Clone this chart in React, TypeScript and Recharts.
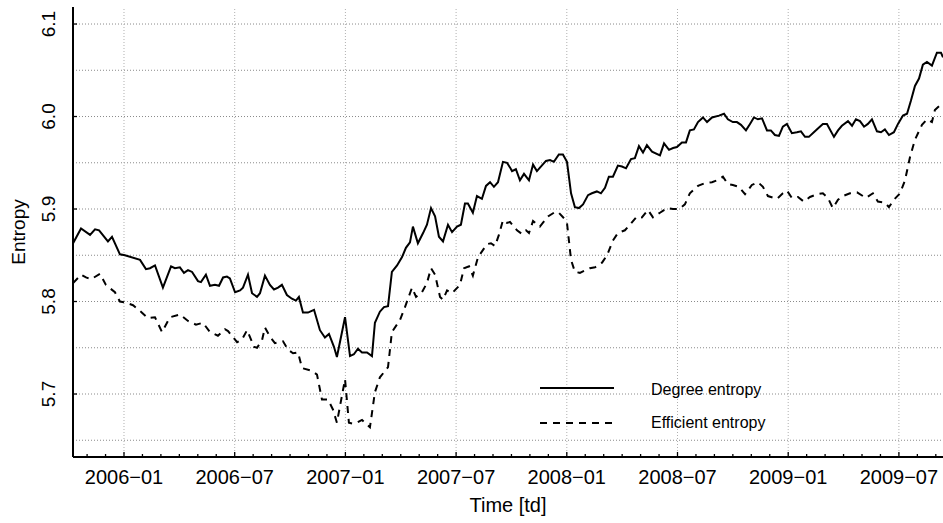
import React from "react";
import { LineChart, Line, XAxis, YAxis, ReferenceLine, Legend } from "recharts";

// x = months since 2006-01 (decimal), values = entropy
const degreeT = [-2.76,-2.33,-1.84,-1.57,-1.35,-0.87,-0.65,-0.22,0.05,0.87,1.19,1.41,1.68,2.11,2.55,2.76,3.03,3.25,3.47,3.69,4.01,4.17,4.44,4.66,4.93,5.15,5.37,5.58,5.74,6.02,6.29,6.45,6.72,6.94,7.21,7.37,7.64,7.91,8.13,8.35,8.56,8.83,9.10,9.32,9.48,9.70,9.97,10.30,10.62,10.89,11.11,11.38,11.54,11.98,12.25,12.46,12.68,12.90,13.17,13.44,13.60,13.87,14.09,14.31,14.52,14.80,15.07,15.28,15.50,15.66,15.93,16.21,16.42,16.64,16.86,17.07,17.29,17.56,17.78,18.05,18.26,18.48,18.64,18.91,19.13,19.40,19.62,19.84,20.05,20.27,20.54,20.76,20.92,21.03,21.24,21.46,21.68,21.95,22.17,22.38,22.87,23.09,23.30,23.57,23.79,24.01,24.23,24.44,24.66,24.88,25.15,25.36,25.63,25.85,26.07,26.28,26.50,26.77,26.99,27.21,27.48,27.69,27.91,28.13,28.34,28.62,29.05,29.27,29.54,29.76,29.97,30.24,30.46,30.67,30.89,31.11,31.38,31.60,31.87,32.25,32.52,32.73,33.00,33.22,33.44,33.71,33.93,34.14,34.36,34.58,34.85,35.06,35.28,35.50,35.71,35.93,36.20,36.47,36.69,36.91,37.12,37.39,37.61,37.88,38.10,38.48,38.70,38.91,39.24,39.46,39.67,39.89,40.11,40.32,40.54,40.81,41.03,41.24,41.46,41.73,41.95,42.22,42.44,42.65,42.87,43.09,43.30,43.52,43.79,44.06,44.28,44.39];
const degreeV = [5.863,5.879,5.872,5.878,5.877,5.865,5.870,5.851,5.850,5.845,5.835,5.836,5.839,5.815,5.838,5.836,5.837,5.831,5.834,5.832,5.822,5.821,5.829,5.817,5.818,5.817,5.826,5.827,5.825,5.810,5.812,5.815,5.829,5.809,5.805,5.809,5.828,5.818,5.813,5.815,5.818,5.807,5.803,5.801,5.805,5.788,5.788,5.791,5.769,5.761,5.765,5.751,5.740,5.783,5.741,5.743,5.749,5.745,5.745,5.741,5.777,5.789,5.794,5.795,5.832,5.839,5.848,5.858,5.864,5.881,5.863,5.874,5.883,5.901,5.892,5.870,5.865,5.883,5.875,5.881,5.883,5.906,5.906,5.896,5.914,5.911,5.925,5.929,5.924,5.929,5.951,5.950,5.945,5.941,5.943,5.931,5.938,5.931,5.948,5.941,5.952,5.953,5.951,5.959,5.959,5.951,5.917,5.902,5.901,5.905,5.915,5.917,5.919,5.917,5.923,5.935,5.935,5.947,5.946,5.944,5.954,5.955,5.968,5.961,5.969,5.962,5.958,5.971,5.964,5.966,5.967,5.972,5.972,5.985,5.986,5.994,5.999,5.994,5.999,6.001,6.003,5.997,5.994,5.994,5.991,5.985,5.992,5.999,5.997,5.998,5.985,5.985,5.980,5.979,5.989,5.992,5.982,5.983,5.984,5.978,5.978,5.983,5.987,5.992,5.992,5.978,5.985,5.990,5.995,5.990,5.997,5.995,5.989,5.992,5.997,5.984,5.983,5.986,5.980,5.983,5.992,6.001,6.003,6.017,6.033,6.041,6.056,6.059,6.055,6.069,6.069,6.064];

const effT = [-2.76,-2.33,-2.06,-1.79,-1.30,-0.98,-0.49,-0.22,0.05,0.49,0.92,1.30,1.68,2.06,2.49,3.03,3.47,3.90,4.28,4.66,5.09,5.47,5.64,6.13,6.40,6.67,7.05,7.21,7.48,7.64,7.91,8.18,8.62,8.89,9.16,9.43,9.65,10.19,10.46,10.73,11.06,11.33,11.54,11.98,12.19,12.41,12.63,12.90,13.33,13.60,13.87,14.31,14.52,14.96,15.23,15.61,15.83,16.15,16.42,16.64,16.86,17.13,17.29,17.51,17.78,18.21,18.43,18.70,18.91,19.19,19.67,19.89,20.11,20.32,20.54,20.76,20.92,21.30,21.57,21.79,21.95,22.17,22.54,22.98,23.30,23.52,23.85,24.01,24.23,24.44,24.71,25.25,25.53,25.91,26.18,26.50,26.77,27.15,27.42,27.80,28.07,28.40,28.67,29.05,29.43,29.75,30.08,30.40,30.67,31.11,31.49,31.87,32.14,32.46,32.73,33.00,33.33,33.66,34.03,34.36,34.63,34.90,35.39,35.71,35.93,36.20,36.53,36.85,37.18,37.56,37.88,38.15,38.42,38.70,38.97,39.35,39.73,40.21,40.59,40.86,41.24,41.46,41.73,42.06,42.33,42.60,42.87,43.25,43.52,43.79,43.95,44.22,44.39];
const effV = [5.820,5.829,5.826,5.824,5.830,5.818,5.810,5.800,5.799,5.796,5.789,5.782,5.783,5.767,5.783,5.786,5.779,5.775,5.777,5.767,5.763,5.770,5.768,5.756,5.759,5.769,5.751,5.750,5.758,5.772,5.762,5.755,5.757,5.748,5.744,5.745,5.728,5.725,5.721,5.694,5.694,5.683,5.669,5.716,5.669,5.668,5.669,5.672,5.664,5.702,5.718,5.729,5.767,5.780,5.794,5.815,5.805,5.810,5.820,5.836,5.829,5.805,5.802,5.812,5.809,5.818,5.836,5.838,5.828,5.848,5.862,5.863,5.860,5.872,5.888,5.885,5.886,5.877,5.873,5.877,5.874,5.887,5.881,5.892,5.896,5.897,5.890,5.885,5.845,5.832,5.831,5.836,5.837,5.842,5.850,5.866,5.874,5.877,5.883,5.892,5.891,5.899,5.891,5.896,5.901,5.900,5.900,5.905,5.917,5.925,5.928,5.929,5.931,5.935,5.927,5.926,5.924,5.916,5.926,5.929,5.924,5.914,5.911,5.917,5.920,5.912,5.913,5.908,5.913,5.916,5.917,5.912,5.901,5.910,5.914,5.917,5.918,5.912,5.917,5.908,5.907,5.902,5.910,5.917,5.931,5.956,5.975,5.991,5.997,5.994,6.007,6.012,6.009];

const seriesNames = ["Degree entropy", "Efficient entropy"];
const xTitle = "Time [td]";
const yTitle = "Entropy";
const majorMonths = [0, 6, 12, 18, 24, 30, 36, 42];
const xLabels = ["2006\u221201", "2006\u221207", "2007\u221201", "2007\u221207", "2008\u221201", "2008\u221207", "2009\u221201", "2009\u221207"];
const minorMonths = Array.from({ length: 47 }, (_, i) => i - 2);
const yTickValues = [5.7, 5.8, 5.9, 6.0, 6.1];
const yTickLabels = ["5.7", "5.8", "5.9", "6.0", "6.1"];
const yGridValues = [5.65, 5.7, 5.75, 5.8, 5.85, 5.9, 5.95, 6.0, 6.05, 6.1];

const degreeData = degreeT.map((t, i) => ({ t, v: degreeV[i] }));
const effData = effT.map((t, i) => ({ t, v: effV[i] }));

const FONT = "'Liberation Sans', Arial, Helvetica, sans-serif";
const PLOT_LEFT = 73;
const PLOT_BOTTOM = 457;

const XTick = (props: any) => {
  const { x, payload } = props;
  const m = payload.value;
  const idx = majorMonths.indexOf(m);
  return (
    <g>
      <line x1={x} x2={x} y1={PLOT_BOTTOM} y2={PLOT_BOTTOM - (idx >= 0 ? 5 : 3)} stroke="#000" strokeWidth={1.3} />
      {idx >= 0 && (
        <text x={x} y={484} textAnchor="middle" fontSize={20} fontFamily={FONT} fill="#000">
          {xLabels[idx]}
        </text>
      )}
    </g>
  );
};

const YTick = (props: any) => {
  const { y, payload } = props;
  const v = payload.value;
  const idx = yTickValues.findIndex((t) => Math.abs(t - v) < 1e-6);
  if (idx < 0) return <g />;
  return (
    <g>
      <line x1={PLOT_LEFT} x2={PLOT_LEFT + 4} y1={y} y2={y} stroke="#000" strokeWidth={1.3} />
      <g transform={`translate(55, ${y}) rotate(-90)`}>
        <text x={0} y={0} textAnchor="middle" fontSize={19} fontFamily={FONT} fill="#000">
          {yTickLabels[idx]}
        </text>
      </g>
    </g>
  );
};

const YTitle = () => (
  <g transform="translate(25, 232) rotate(-90)">
    <text x={0} y={0} textAnchor="middle" fontSize={19} fontFamily={FONT} fill="#000">
      {yTitle}
    </text>
  </g>
);

const XTitle = () => (
  <text x={508} y={512} textAnchor="middle" fontSize={20} fontFamily={FONT} fill="#000">
    {xTitle}
  </text>
);

const LegendContent = () => (
  <svg width={260} height={70} style={{ overflow: "visible" }}>
    <line x1={10} x2={84} y1={18} y2={18} stroke="#000" strokeWidth={2} />
    <text x={121} y={25} fontSize={16} fontFamily={FONT} fill="#000">{seriesNames[0]}</text>
    <line x1={10} x2={84} y1={53} y2={53} stroke="#000" strokeWidth={2} strokeDasharray="7 6" />
    <text x={121} y={58} fontSize={16} fontFamily={FONT} fill="#000">{seriesNames[1]}</text>
  </svg>
);

export default function App() {
  return (
    <div style={{ position: "absolute", left: 0, top: 0, width: 943, height: 523, background: "#fff" }}>
      <LineChart width={943} height={523} margin={{ top: 7, right: 0, bottom: 0, left: 0 }}>
        <XAxis
          xAxisId="top"
          orientation="top"
          type="number"
          dataKey="t"
          domain={[-2.764, 44.39]}
          allowDataOverflow
          height={0}
          tick={false}
          tickLine={false}
          axisLine={{ stroke: "#000", strokeWidth: 2 }}
        />
        <XAxis
          type="number"
          dataKey="t"
          domain={[-2.764, 44.39]}
          allowDataOverflow
          ticks={minorMonths}
          interval={0}
          height={66}
          tick={<XTick />}
          tickLine={false}
          axisLine={{ stroke: "#000", strokeWidth: 2 }}
          label={<XTitle />}
        />
        <YAxis
          type="number"
          domain={[5.6319, 6.1184]}
          allowDataOverflow
          ticks={yGridValues}
          interval={0}
          width={73}
          tick={<YTick />}
          tickLine={false}
          axisLine={{ stroke: "#000", strokeWidth: 2 }}
          label={<YTitle />}
        />
        {yGridValues.map((v) => (
          <ReferenceLine key={"h" + v} y={v} stroke="#8a8a8a" strokeDasharray="1 2" strokeWidth={1} />
        ))}
        {majorMonths.map((m) => (
          <ReferenceLine key={"v" + m} x={m} stroke="#b0b0b0" strokeDasharray="1 2" strokeWidth={1} />
        ))}
        <Line
          data={degreeData}
          dataKey="v"
          name={seriesNames[0]}
          type="linear"
          stroke="#000"
          strokeWidth={2}
          dot={false}
          activeDot={false}
          isAnimationActive={false}
        />
        <Line
          data={effData}
          dataKey="v"
          name={seriesNames[1]}
          type="linear"
          stroke="#000"
          strokeWidth={2}
          strokeDasharray="7 6"
          dot={false}
          activeDot={false}
          isAnimationActive={false}
        />
        <Legend
          layout="vertical"
          align="center"
          verticalAlign="middle"
          content={<LegendContent />}
          wrapperStyle={{ position: "absolute", left: 530, top: 370, width: 260, height: 70 }}
        />
      </LineChart>
    </div>
  );
}
